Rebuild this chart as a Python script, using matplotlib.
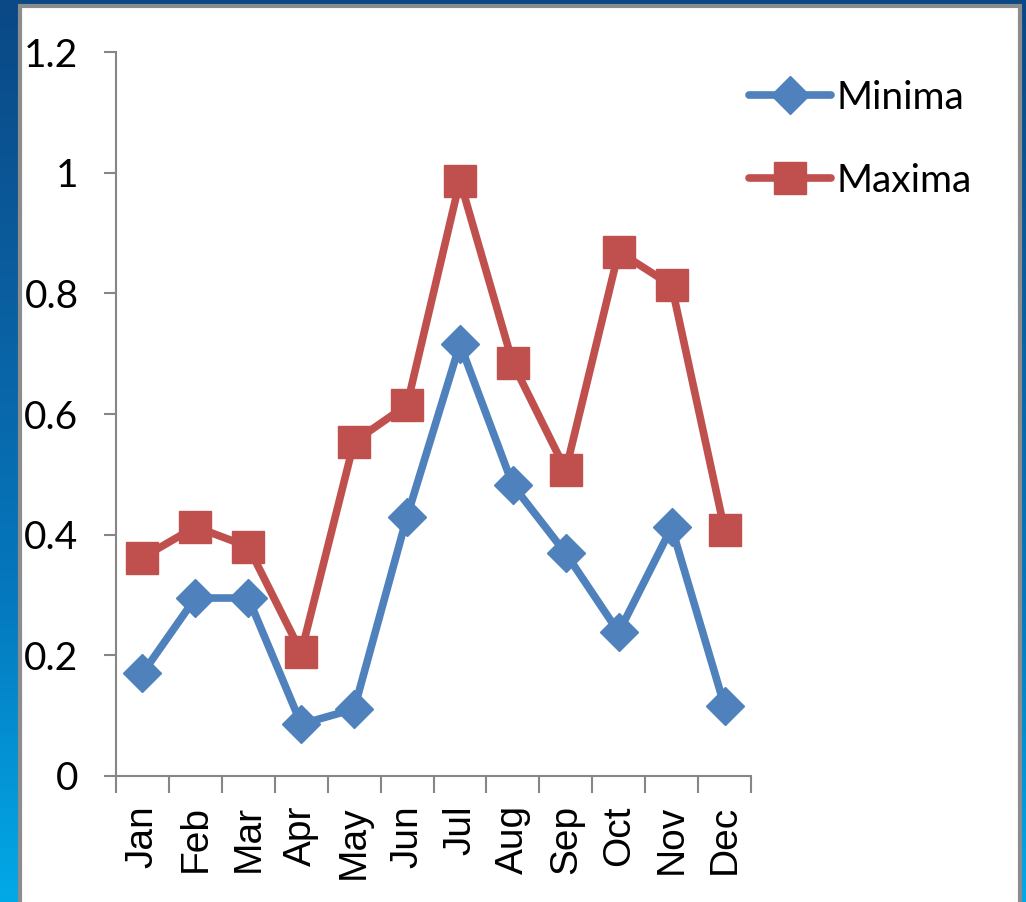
import numpy as np
import matplotlib
matplotlib.use("Agg")
import matplotlib.pyplot as plt
from matplotlib.patches import Rectangle
from matplotlib.colors import LinearSegmentedColormap

months = ["Jan", "Feb", "Mar", "Apr", "May", "Jun", "Jul", "Aug", "Sep", "Oct", "Nov", "Dec"]
minima = [0.17, 0.295, 0.295, 0.086, 0.111, 0.43, 0.716, 0.482, 0.369, 0.238, 0.412, 0.116]
maxima = [0.362, 0.413, 0.380, 0.205, 0.554, 0.615, 0.987, 0.684, 0.507, 0.869, 0.813, 0.408]
yticks = [0, 0.2, 0.4, 0.6, 0.8, 1, 1.2]
ytick_labels = ["0", "0.2", "0.4", "0.6", "0.8", "1", "1.2"]

W, H = 1026, 902
fig = plt.figure(figsize=(W / 100, H / 100), dpi=100)

# background gradient
bg = fig.add_axes([0, 0, 1, 1], zorder=-10)
cmap = LinearSegmentedColormap.from_list(
    "bg", [(0.0, "#0a4886"), (0.33, "#0a5fa0"), (0.66, "#0578be"), (1.0, "#02a9e7")])
grad = np.linspace(0, 1, 256).reshape(-1, 1)
bg.imshow(grad, aspect="auto", cmap=cmap, extent=[0, 1, 1, 0])
bg.set_xlim(0, 1)
bg.set_ylim(1, 0)
bg.axis("off")
# white panel with gray border (pixel coordinates -> fractions)
px0, py0, px1 = 20, 6, 1020
bg.add_patch(Rectangle((px0 / W, py0 / H), (px1 - px0) / W, 1.2, facecolor="white",
                       edgecolor="#8c8c8c", linewidth=3.0))

ax = fig.add_axes([116 / W, 1 - 776 / H, (751 - 116) / W, (776 - 52) / H])
ax.set_facecolor("none")
x = np.arange(len(months))
ax.plot(x, minima, color="#4f81bd", lw=5.5, marker="D", ms=19, mec="#4f81bd",
        solid_capstyle="round", label="Minima", zorder=3)
ax.plot(x, maxima, color="#c0504d", lw=5.5, marker="s", ms=23, mec="#c0504d",
        solid_capstyle="round", label="Maxima", zorder=3)

ax.set_xlim(-0.5, len(months) - 0.5)
ax.set_ylim(0, 1.2)
ax.set_yticks(yticks)
ax.set_yticklabels(ytick_labels, fontname="Lato", fontsize=28)
ax.set_xticks(x)
ax.set_xticklabels(months, rotation=90, fontname="Liberation Sans", fontsize=28)
ax.set_xticks(np.arange(len(months) + 1) - 0.5, minor=True)
ax.tick_params(axis="x", which="major", length=0, pad=21)
ax.tick_params(axis="x", which="minor", length=12, width=1.5, color="#868686")
ax.tick_params(axis="y", length=9, width=1.5, color="#868686", pad=18)
for s in ["top", "right"]:
    ax.spines[s].set_visible(False)
for s in ["left", "bottom"]:
    ax.spines[s].set_color("#868686")
    ax.spines[s].set_linewidth(1.5)

leg = ax.legend(loc="upper left", bbox_to_anchor=(749 / W, 1 - 80 / H),
                bbox_transform=fig.transFigure, frameon=False,
                prop={"family": "Lato", "size": 28}, handlelength=2.1,
                handletextpad=0.15, labelspacing=1.2, borderaxespad=0, borderpad=0)

fig.savefig("out.png", dpi=100)
